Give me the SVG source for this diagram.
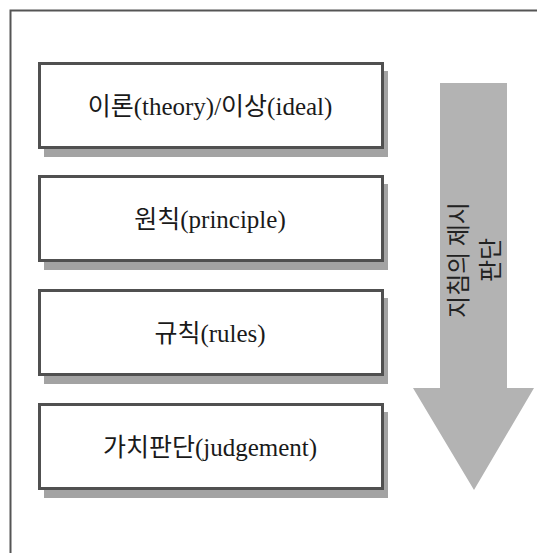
<svg xmlns="http://www.w3.org/2000/svg" width="537" height="553" viewBox="0 0 537 553">
<style>
.shadow{fill:#a3a3a3}
.box{fill:#fff;stroke:#505050;stroke-width:3}
.lbl{font-family:"Liberation Serif","Noto Sans CJK KR",serif;font-size:25px;fill:#1a1a1a;text-anchor:middle}
.atxt{font-family:"Noto Sans CJK KR",sans-serif;font-size:24px;fill:#222;text-anchor:middle}
</style>
<rect width="537" height="553" fill="#fff"/>
<g id="frame">
<path d="M10.5 553 V10.5 H537" fill="none" stroke="#555" stroke-width="2"/>
</g>
<g id="node1">
<rect class="shadow" x="44" y="71" width="344" height="86"/>
<rect class="box" x="39.5" y="63.5" width="343" height="84"/>
<text class="lbl" x="210" y="115">이론(theory)/이상(ideal)</text>
</g>
<g id="node2">
<rect class="shadow" x="44" y="184" width="344" height="86"/>
<rect class="box" x="39.5" y="176.5" width="343" height="84"/>
<text class="lbl" x="210" y="228">원칙(principle)</text>
</g>
<g id="node3">
<rect class="shadow" x="44" y="298" width="344" height="86"/>
<rect class="box" x="39.5" y="290.5" width="343" height="84"/>
<text class="lbl" x="210" y="342">규칙(rules)</text>
</g>
<g id="node4">
<rect class="shadow" x="44" y="412" width="344" height="86"/>
<rect class="box" x="39.5" y="404.5" width="343" height="84"/>
<text class="lbl" x="210" y="456">가치판단(judgement)</text>
</g>
<g id="connectors">
<path d="M440 83 H507 V388 H534 L474 490 L413 388 H440 Z" fill="#b3b3b3"/>
<text class="atxt" transform="translate(467,260) rotate(-90)"><tspan x="0" y="0">지침의 제시</tspan><tspan x="0" y="32">판단</tspan></text>
</g>
</svg>
